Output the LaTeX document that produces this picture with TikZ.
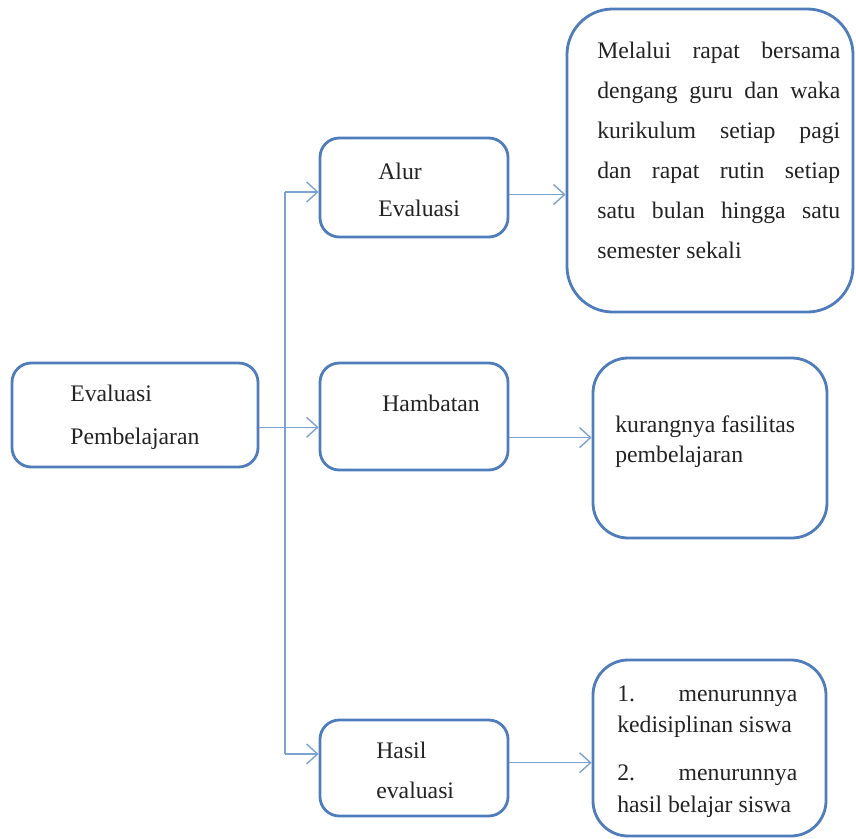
\documentclass[tikz,border=0pt]{standalone}
\usepackage{fontspec}
\setmainfont{Liberation Serif}
\usetikzlibrary{arrows.meta,calc,fit,positioning}
\definecolor{boxblue}{RGB}{79,124,186}
\definecolor{linkblue}{RGB}{125,162,210}
\definecolor{txtgray}{RGB}{35,35,35}
\newcommand{\jline}[2]{\makebox[#1][s]{#2}}
\tikzset{
  rbox/.style={draw=boxblue,line width=1.6pt,rounded corners=11pt,inner sep=0pt},
  lbl/.style={anchor=base west,align=left,inner sep=0pt,text=txtgray},
  link/.style={draw=linkblue,line width=0.8pt},
}

\begin{document}
\begin{tikzpicture}[x=0.02cm,y=-0.02cm,>={Straight Barb[length=2.2mm,width=4mm]},
  font=\fontsize{13.5}{21}\selectfont]
\useasboundingbox (0,0) rectangle (856,839);
% boxes
\node[rbox,fit={(12,363) (258,467)}] (eval) {};
\node[rbox,fit={(320,138) (508,237)}] (alur) {};
\node[rbox,fit={(320,363) (508,470)}] (hamb) {};
\node[rbox,fit={(320,720) (508,816)}] (hasil) {};
\node[rbox,rounded corners=26pt,fit={(567,9) (853,312)}] (cara) {};
\node[rbox,rounded corners=20pt,fit={(593,358) (827,538)}] (kendala) {};
\node[rbox,rounded corners=20pt,fit={(593,660) (826,836)}] (dampak) {};
% texts (anchored at the baseline of the last line)
\node[lbl,font=\fontsize{13.5}{24}\selectfont] (evalt) at (70,444) {Evaluasi\\Pembelajaran};
\node[lbl] (alurt) at (378,216) {Alur\\Evaluasi};
\node[lbl] (hambt) at (382,411) {Hambatan};
\node[lbl,font=\fontsize{13.5}{22.7}\selectfont] (hasilt) at (376,798) {Hasil\\evaluasi};
\node[lbl,font=\fontsize{13.5}{22.7}\selectfont] (carat) at (597,258)
  {\jline{4.86cm}{Melalui rapat bersama}\\
   \jline{4.86cm}{dengang guru dan waka}\\
   \jline{4.86cm}{kurikulum setiap pagi}\\
   \jline{4.86cm}{dan rapat rutin setiap}\\
   \jline{4.86cm}{satu bulan hingga satu}\\
   semester sekali};
\node[lbl,font=\fontsize{13.5}{17}\selectfont] (kendalat) at (615,462) {kurangnya fasilitas\\pembelajaran};
\node[lbl,font=\fontsize{13.5}{18}\selectfont] (dampakt) at (617,812)
  {\jline{3.6cm}{1. menurunnya}\\
   kedisiplinan siswa\\[9pt]
   \jline{3.6cm}{2. menurunnya}\\
   hasil belajar siswa};
% connectors
\coordinate (top) at (285,192);
\coordinate (bot) at (285,754);
\draw[link] (top) -- (bot);
\draw[link,->] (top) -- (top -| alur.west);
\draw[link,->] (bot) -- (bot -| hasil.west);
\draw[link,->] ([yshift=-7pt]eval.east) -- ([yshift=-7pt]eval.east -| hamb.west);
\draw[link,->] ([yshift=-4pt]alur.east) -- ([yshift=-4pt]alur.east -| cara.west);
\draw[link,->] ([yshift=-12pt]hamb.east) -- ([yshift=-12pt]hamb.east -| kendala.west);
\draw[link,->] ([yshift=3pt]hasil.east) -- ([yshift=3pt]hasil.east -| dampak.west);
\end{tikzpicture}
\end{document}
